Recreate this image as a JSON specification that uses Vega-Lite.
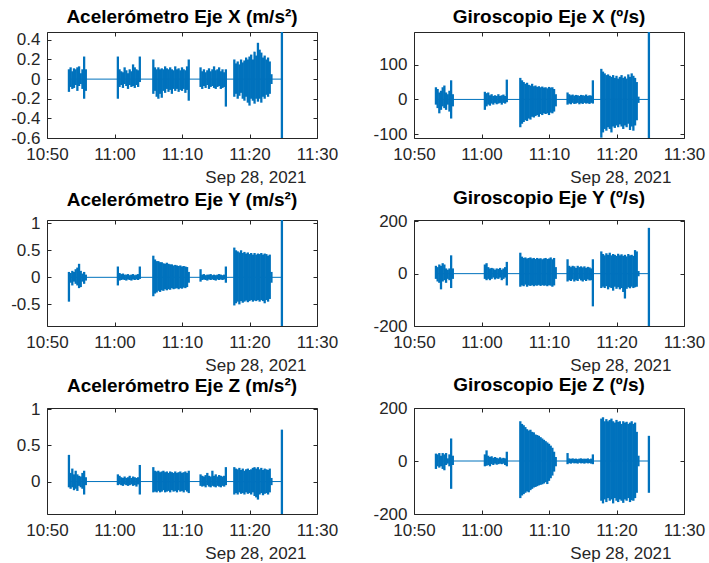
{
  "$schema": "https://vega.github.io/schema/vega-lite/v6.json",
  "padding": {"left": 10, "top": 7, "right": 5, "bottom": 5},
  "background": "white",
  "datasets": {
    "imu": [
      {"t":"2021-09-28T10:53:15","axl":-0.13,"axh":0.1,"gxl":-15,"gxh":35,"ayl":-0.45,"ayh":0.1,"gyl":-20,"gyh":30,"azl":-0.08,"azh":0.37,"gzl":-30,"gzh":28},
      {"t":"2021-09-28T10:53:30","axl":-0.08,"axh":0.12,"gxl":-25,"gxh":30,"ayl":-0.1,"ayh":0.08,"gyl":-30,"gyh":25,"azl":-0.1,"azh":0.12,"gzl":-20,"gzh":25},
      {"t":"2021-09-28T10:53:45","axl":-0.1,"axh":0.08,"gxl":-40,"gxh":20,"ayl":-0.15,"ayh":0.12,"gyl":-35,"gyh":35,"azl":-0.08,"azh":0.18,"gzl":-25,"gzh":30},
      {"t":"2021-09-28T10:54:00","axl":-0.09,"axh":0.11,"gxl":-30,"gxh":25,"ayl":-0.08,"ayh":0.1,"gyl":-60,"gyh":30,"azl":-0.12,"azh":0.1,"gzl":-20,"gzh":20},
      {"t":"2021-09-28T10:54:15","axl":-0.06,"axh":0.1,"gxl":-20,"gxh":35,"ayl":-0.12,"ayh":0.15,"gyl":-30,"gyh":40,"azl":-0.1,"azh":0.15,"gzl":-30,"gzh":30},
      {"t":"2021-09-28T10:54:30","axl":-0.12,"axh":0.12,"gxl":-25,"gxh":40,"ayl":-0.15,"ayh":0.18,"gyl":-25,"gyh":35,"azl":-0.13,"azh":0.1,"gzl":-35,"gzh":25},
      {"t":"2021-09-28T10:54:45","axl":-0.07,"axh":0.13,"gxl":-30,"gxh":20,"ayl":-0.2,"ayh":0.25,"gyl":-35,"gyh":20,"azl":-0.06,"azh":0.08,"gzl":-15,"gzh":30},
      {"t":"2021-09-28T10:55:00","axl":-0.05,"axh":0.06,"gxl":-15,"gxh":15,"ayl":-0.18,"ayh":0.12,"gyl":-20,"gyh":15,"azl":-0.08,"azh":0.07,"gzl":-10,"gzh":10},
      {"t":"2021-09-28T10:55:15","axl":-0.1,"axh":0.1,"gxl":-35,"gxh":25,"ayl":-0.08,"ayh":0.07,"gyl":-25,"gyh":20,"azl":-0.1,"azh":0.12,"gzl":-20,"gzh":25},
      {"t":"2021-09-28T10:55:30","axl":-0.2,"axh":0.23,"gxl":-55,"gxh":55,"ayl":-0.12,"ayh":0.1,"gyl":-55,"gyh":70,"azl":-0.18,"azh":0.15,"gzl":-105,"gzh":85},
      {"t":"2021-09-28T10:55:45","axl":-0.12,"axh":0.1,"gxl":-20,"gxh":15,"ayl":-0.06,"ayh":0.05,"gyl":-20,"gyh":20,"azl":-0.05,"azh":0.06,"gzl":-15,"gzh":20},
      {"t":"2021-09-28T11:00:30","axl":-0.2,"axh":0.23,"gxl":-30,"gxh":22,"ayl":-0.15,"ayh":0.2,"gyl":-20,"gyh":35,"azl":-0.05,"azh":0.1,"gzl":-20,"gzh":25},
      {"t":"2021-09-28T11:00:45","axl":-0.08,"axh":0.1,"gxl":-20,"gxh":18,"ayl":-0.06,"ayh":0.08,"gyl":-25,"gyh":40,"azl":-0.04,"azh":0.08,"gzl":-18,"gzh":40},
      {"t":"2021-09-28T11:01:00","axl":-0.06,"axh":0.08,"gxl":-15,"gxh":20,"ayl":-0.05,"ayh":0.06,"gyl":-20,"gyh":25,"azl":-0.05,"azh":0.06,"gzl":-15,"gzh":20},
      {"t":"2021-09-28T11:01:15","axl":-0.09,"axh":0.07,"gxl":-18,"gxh":12,"ayl":-0.04,"ayh":0.07,"gyl":-25,"gyh":20,"azl":-0.06,"azh":0.05,"gzl":-20,"gzh":15},
      {"t":"2021-09-28T11:01:30","axl":-0.05,"axh":0.12,"gxl":-12,"gxh":15,"ayl":-0.05,"ayh":0.05,"gyl":-20,"gyh":22,"azl":-0.04,"azh":0.07,"gzl":-12,"gzh":18},
      {"t":"2021-09-28T11:01:45","axl":-0.07,"axh":0.09,"gxl":-15,"gxh":10,"ayl":-0.06,"ayh":0.05,"gyl":-15,"gyh":20,"azl":-0.05,"azh":0.05,"gzl":-15,"gzh":12},
      {"t":"2021-09-28T11:02:00","axl":-0.1,"axh":0.06,"gxl":-10,"gxh":12,"ayl":-0.04,"ayh":0.06,"gyl":-22,"gyh":15,"azl":-0.06,"azh":0.06,"gzl":-10,"gzh":15},
      {"t":"2021-09-28T11:02:15","axl":-0.06,"axh":0.1,"gxl":-14,"gxh":10,"ayl":-0.05,"ayh":0.04,"gyl":-18,"gyh":20,"azl":-0.05,"azh":0.08,"gzl":-14,"gzh":12},
      {"t":"2021-09-28T11:02:30","axl":-0.08,"axh":0.08,"gxl":-12,"gxh":15,"ayl":-0.06,"ayh":0.05,"gyl":-20,"gyh":18,"azl":-0.04,"azh":0.05,"gzl":-12,"gzh":10},
      {"t":"2021-09-28T11:02:45","axl":-0.07,"axh":0.15,"gxl":-10,"gxh":10,"ayl":-0.04,"ayh":0.06,"gyl":-15,"gyh":22,"azl":-0.06,"azh":0.07,"gzl":-10,"gzh":14},
      {"t":"2021-09-28T11:03:00","axl":-0.09,"axh":0.12,"gxl":-15,"gxh":12,"ayl":-0.05,"ayh":0.04,"gyl":-25,"gyh":15,"azl":-0.05,"azh":0.06,"gzl":-12,"gzh":10},
      {"t":"2021-09-28T11:03:15","axl":-0.06,"axh":0.1,"gxl":-10,"gxh":14,"ayl":-0.04,"ayh":0.05,"gyl":-20,"gyh":20,"azl":-0.07,"azh":0.05,"gzl":-10,"gzh":12},
      {"t":"2021-09-28T11:03:30","axl":-0.08,"axh":0.09,"gxl":-12,"gxh":10,"ayl":-0.05,"ayh":0.06,"gyl":-15,"gyh":25,"azl":-0.04,"azh":0.06,"gzl":-15,"gzh":10},
      {"t":"2021-09-28T11:03:45","axl":-0.03,"axh":0.23,"gxl":-8,"gxh":57,"ayl":-0.03,"ayh":0.2,"gyl":-45,"gyh":45,"azl":-0.18,"azh":0.23,"gzl":-20,"gzh":35},
      {"t":"2021-09-28T11:05:45","axl":-0.15,"axh":0.2,"gxl":-80,"gxh":62,"ayl":-0.35,"ayh":0.4,"gyl":-50,"gyh":80,"azl":-0.15,"azh":0.2,"gzl":-140,"gzh":150},
      {"t":"2021-09-28T11:06:00","axl":-0.12,"axh":0.12,"gxl":-70,"gxh":55,"ayl":-0.3,"ayh":0.33,"gyl":-45,"gyh":65,"azl":-0.14,"azh":0.15,"gzl":-130,"gzh":140},
      {"t":"2021-09-28T11:06:15","axl":-0.18,"axh":0.1,"gxl":-65,"gxh":50,"ayl":-0.28,"ayh":0.3,"gyl":-48,"gyh":60,"azl":-0.15,"azh":0.14,"gzl":-125,"gzh":135},
      {"t":"2021-09-28T11:06:30","axl":-0.2,"axh":0.12,"gxl":-60,"gxh":45,"ayl":-0.25,"ayh":0.3,"gyl":-42,"gyh":62,"azl":-0.13,"azh":0.15,"gzl":-120,"gzh":128},
      {"t":"2021-09-28T11:06:45","axl":-0.15,"axh":0.1,"gxl":-62,"gxh":48,"ayl":-0.27,"ayh":0.28,"gyl":-50,"gyh":58,"azl":-0.15,"azh":0.13,"gzl":-115,"gzh":120},
      {"t":"2021-09-28T11:07:00","axl":-0.19,"axh":0.11,"gxl":-55,"gxh":42,"ayl":-0.24,"ayh":0.28,"gyl":-45,"gyh":60,"azl":-0.14,"azh":0.14,"gzl":-118,"gzh":115},
      {"t":"2021-09-28T11:07:15","axl":-0.12,"axh":0.1,"gxl":-58,"gxh":40,"ayl":-0.25,"ayh":0.26,"gyl":-47,"gyh":62,"azl":-0.12,"azh":0.15,"gzl":-110,"gzh":118},
      {"t":"2021-09-28T11:07:30","axl":-0.14,"axh":0.13,"gxl":-50,"gxh":45,"ayl":-0.22,"ayh":0.25,"gyl":-44,"gyh":58,"azl":-0.15,"azh":0.13,"gzl":-105,"gzh":110},
      {"t":"2021-09-28T11:07:45","axl":-0.1,"axh":0.11,"gxl":-52,"gxh":38,"ayl":-0.24,"ayh":0.27,"gyl":-48,"gyh":60,"azl":-0.14,"azh":0.14,"gzl":-100,"gzh":108},
      {"t":"2021-09-28T11:08:00","axl":-0.13,"axh":0.1,"gxl":-48,"gxh":40,"ayl":-0.22,"ayh":0.25,"gyl":-45,"gyh":56,"azl":-0.13,"azh":0.12,"gzl":-98,"gzh":100},
      {"t":"2021-09-28T11:08:15","axl":-0.11,"axh":0.12,"gxl":-45,"gxh":36,"ayl":-0.23,"ayh":0.24,"gyl":-46,"gyh":60,"azl":-0.15,"azh":0.14,"gzl":-95,"gzh":98},
      {"t":"2021-09-28T11:08:30","axl":-0.15,"axh":0.1,"gxl":-50,"gxh":38,"ayl":-0.2,"ayh":0.24,"gyl":-43,"gyh":57,"azl":-0.12,"azh":0.13,"gzl":-92,"gzh":95},
      {"t":"2021-09-28T11:08:45","axl":-0.1,"axh":0.09,"gxl":-42,"gxh":35,"ayl":-0.22,"ayh":0.22,"gyl":-47,"gyh":59,"azl":-0.14,"azh":0.12,"gzl":-90,"gzh":90},
      {"t":"2021-09-28T11:09:00","axl":-0.12,"axh":0.13,"gxl":-45,"gxh":37,"ayl":-0.21,"ayh":0.23,"gyl":-44,"gyh":55,"azl":-0.13,"azh":0.14,"gzl":-88,"gzh":85},
      {"t":"2021-09-28T11:09:15","axl":-0.1,"axh":0.1,"gxl":-40,"gxh":34,"ayl":-0.2,"ayh":0.22,"gyl":-46,"gyh":58,"azl":-0.15,"azh":0.12,"gzl":-85,"gzh":80},
      {"t":"2021-09-28T11:09:30","axl":-0.13,"axh":0.11,"gxl":-42,"gxh":35,"ayl":-0.22,"ayh":0.21,"gyl":-45,"gyh":60,"azl":-0.12,"azh":0.13,"gzl":-80,"gzh":75},
      {"t":"2021-09-28T11:09:45","axl":-0.11,"axh":0.09,"gxl":-40,"gxh":32,"ayl":-0.2,"ayh":0.22,"gyl":-48,"gyh":56,"azl":-0.14,"azh":0.14,"gzl":-87,"gzh":70},
      {"t":"2021-09-28T11:10:00","axl":-0.12,"axh":0.12,"gxl":-45,"gxh":36,"ayl":-0.21,"ayh":0.2,"gyl":-44,"gyh":58,"azl":-0.13,"azh":0.12,"gzl":-75,"gzh":65},
      {"t":"2021-09-28T11:10:15","axl":-0.1,"axh":0.1,"gxl":-38,"gxh":34,"ayl":-0.19,"ayh":0.21,"gyl":-46,"gyh":62,"azl":-0.15,"azh":0.13,"gzl":-65,"gzh":58},
      {"t":"2021-09-28T11:10:30","axl":-0.14,"axh":0.09,"gxl":-40,"gxh":35,"ayl":-0.2,"ayh":0.2,"gyl":-50,"gyh":55,"azl":-0.12,"azh":0.14,"gzl":-55,"gzh":50},
      {"t":"2021-09-28T11:10:45","axl":-0.11,"axh":0.13,"gxl":-35,"gxh":30,"ayl":-0.18,"ayh":0.19,"gyl":-45,"gyh":60,"azl":-0.14,"azh":0.12,"gzl":-40,"gzh":35},
      {"t":"2021-09-28T11:11:00","axl":-0.22,"axh":0.2,"gxl":-20,"gxh":15,"ayl":-0.1,"ayh":0.1,"gyl":-20,"gyh":25,"azl":-0.16,"azh":0.15,"gzl":-20,"gzh":15},
      {"t":"2021-09-28T11:12:45","axl":-0.08,"axh":0.12,"gxl":-15,"gxh":20,"ayl":-0.08,"ayh":0.15,"gyl":-30,"gyh":55,"azl":-0.06,"azh":0.1,"gzl":-12,"gzh":30},
      {"t":"2021-09-28T11:13:00","axl":-0.1,"axh":0.08,"gxl":-12,"gxh":15,"ayl":-0.05,"ayh":0.05,"gyl":-25,"gyh":30,"azl":-0.07,"azh":0.08,"gzl":-8,"gzh":10},
      {"t":"2021-09-28T11:13:15","axl":-0.07,"axh":0.1,"gxl":-14,"gxh":12,"ayl":-0.04,"ayh":0.06,"gyl":-28,"gyh":25,"azl":-0.06,"azh":0.07,"gzl":-10,"gzh":8},
      {"t":"2021-09-28T11:13:30","axl":-0.09,"axh":0.07,"gxl":-10,"gxh":14,"ayl":-0.05,"ayh":0.04,"gyl":-22,"gyh":30,"azl":-0.08,"azh":0.09,"gzl":-7,"gzh":10},
      {"t":"2021-09-28T11:13:45","axl":-0.06,"axh":0.09,"gxl":-13,"gxh":11,"ayl":-0.06,"ayh":0.05,"gyl":-30,"gyh":28,"azl":-0.05,"azh":0.12,"gzl":-9,"gzh":8},
      {"t":"2021-09-28T11:14:00","axl":-0.1,"axh":0.11,"gxl":-12,"gxh":13,"ayl":-0.04,"ayh":0.05,"gyl":-25,"gyh":22,"azl":-0.07,"azh":0.08,"gzl":-8,"gzh":9},
      {"t":"2021-09-28T11:14:15","axl":-0.08,"axh":0.08,"gxl":-10,"gxh":12,"ayl":-0.05,"ayh":0.06,"gyl":-28,"gyh":30,"azl":-0.08,"azh":0.07,"gzl":-10,"gzh":7},
      {"t":"2021-09-28T11:14:30","axl":-0.07,"axh":0.1,"gxl":-14,"gxh":10,"ayl":-0.04,"ayh":0.04,"gyl":-20,"gyh":25,"azl":-0.06,"azh":0.15,"gzl":-7,"gzh":9},
      {"t":"2021-09-28T11:14:45","axl":-0.09,"axh":0.13,"gxl":-11,"gxh":13,"ayl":-0.05,"ayh":0.05,"gyl":-26,"gyh":28,"azl":-0.07,"azh":0.08,"gzl":-9,"gzh":10},
      {"t":"2021-09-28T11:15:00","axl":-0.1,"axh":0.09,"gxl":-13,"gxh":12,"ayl":-0.06,"ayh":0.04,"gyl":-30,"gyh":24,"azl":-0.08,"azh":0.1,"gzl":-8,"gzh":8},
      {"t":"2021-09-28T11:15:15","axl":-0.08,"axh":0.1,"gxl":-10,"gxh":11,"ayl":-0.04,"ayh":0.05,"gyl":-24,"gyh":28,"azl":-0.06,"azh":0.07,"gzl":-10,"gzh":9},
      {"t":"2021-09-28T11:15:30","axl":-0.07,"axh":0.12,"gxl":-12,"gxh":14,"ayl":-0.05,"ayh":0.06,"gyl":-28,"gyh":22,"azl":-0.07,"azh":0.09,"gzl":-7,"gzh":8},
      {"t":"2021-09-28T11:15:45","axl":-0.1,"axh":0.08,"gxl":-11,"gxh":10,"ayl":-0.04,"ayh":0.05,"gyl":-22,"gyh":26,"azl":-0.08,"azh":0.08,"gzl":-9,"gzh":10},
      {"t":"2021-09-28T11:16:00","axl":-0.09,"axh":0.1,"gxl":-13,"gxh":12,"ayl":-0.05,"ayh":0.04,"gyl":-26,"gyh":24,"azl":-0.06,"azh":0.07,"gzl":-8,"gzh":7},
      {"t":"2021-09-28T11:16:15","axl":-0.08,"axh":0.07,"gxl":-10,"gxh":11,"ayl":-0.04,"ayh":0.05,"gyl":-25,"gyh":20,"azl":-0.07,"azh":0.08,"gzl":-10,"gzh":9},
      {"t":"2021-09-28T11:16:30","axl":-0.28,"axh":0.1,"gxl":-12,"gxh":55,"ayl":-0.1,"ayh":0.2,"gyl":-125,"gyh":55,"azl":-0.05,"azh":0.2,"gzl":-12,"gzh":25},
      {"t":"2021-09-28T11:17:45","axl":-0.18,"axh":0.2,"gxl":-110,"gxh":88,"ayl":-0.52,"ayh":0.55,"gyl":-55,"gyh":85,"azl":-0.18,"azh":0.2,"gzl":-150,"gzh":160},
      {"t":"2021-09-28T11:18:00","axl":-0.15,"axh":0.16,"gxl":-95,"gxh":80,"ayl":-0.48,"ayh":0.5,"gyl":-50,"gyh":75,"azl":-0.16,"azh":0.18,"gzl":-160,"gzh":165},
      {"t":"2021-09-28T11:18:15","axl":-0.2,"axh":0.18,"gxl":-85,"gxh":75,"ayl":-0.45,"ayh":0.48,"gyl":-55,"gyh":70,"azl":-0.18,"azh":0.17,"gzl":-145,"gzh":150},
      {"t":"2021-09-28T11:18:30","axl":-0.17,"axh":0.15,"gxl":-90,"gxh":70,"ayl":-0.5,"ayh":0.46,"gyl":-48,"gyh":78,"azl":-0.15,"azh":0.19,"gzl":-155,"gzh":158},
      {"t":"2021-09-28T11:18:45","axl":-0.14,"axh":0.2,"gxl":-80,"gxh":72,"ayl":-0.44,"ayh":0.5,"gyl":-60,"gyh":72,"azl":-0.17,"azh":0.16,"gzl":-140,"gzh":150},
      {"t":"2021-09-28T11:19:00","axl":-0.2,"axh":0.17,"gxl":-85,"gxh":68,"ayl":-0.47,"ayh":0.45,"gyl":-52,"gyh":80,"azl":-0.16,"azh":0.18,"gzl":-150,"gzh":155},
      {"t":"2021-09-28T11:19:15","axl":-0.22,"axh":0.19,"gxl":-95,"gxh":65,"ayl":-0.45,"ayh":0.47,"gyl":-55,"gyh":70,"azl":-0.18,"azh":0.15,"gzl":-145,"gzh":160},
      {"t":"2021-09-28T11:19:30","axl":-0.18,"axh":0.22,"gxl":-78,"gxh":70,"ayl":-0.43,"ayh":0.44,"gyl":-65,"gyh":75,"azl":-0.15,"azh":0.17,"gzl":-160,"gzh":150},
      {"t":"2021-09-28T11:19:45","axl":-0.24,"axh":0.2,"gxl":-82,"gxh":62,"ayl":-0.46,"ayh":0.46,"gyl":-50,"gyh":72,"azl":-0.17,"azh":0.18,"gzl":-140,"gzh":145},
      {"t":"2021-09-28T11:20:00","axl":-0.27,"axh":0.23,"gxl":-75,"gxh":68,"ayl":-0.44,"ayh":0.43,"gyl":-58,"gyh":68,"azl":-0.16,"azh":0.16,"gzl":-150,"gzh":155},
      {"t":"2021-09-28T11:20:15","axl":-0.2,"axh":0.25,"gxl":-80,"gxh":60,"ayl":-0.42,"ayh":0.45,"gyl":-52,"gyh":76,"azl":-0.18,"azh":0.17,"gzl":-155,"gzh":148},
      {"t":"2021-09-28T11:20:30","axl":-0.22,"axh":0.2,"gxl":-72,"gxh":65,"ayl":-0.45,"ayh":0.42,"gyl":-60,"gyh":70,"azl":-0.15,"azh":0.19,"gzl":-145,"gzh":150},
      {"t":"2021-09-28T11:20:45","axl":-0.25,"axh":0.28,"gxl":-78,"gxh":70,"ayl":-0.43,"ayh":0.45,"gyl":-55,"gyh":74,"azl":-0.2,"azh":0.2,"gzl":-150,"gzh":140},
      {"t":"2021-09-28T11:21:00","axl":-0.2,"axh":0.24,"gxl":-85,"gxh":62,"ayl":-0.44,"ayh":0.42,"gyl":-70,"gyh":68,"azl":-0.22,"azh":0.18,"gzl":-158,"gzh":150},
      {"t":"2021-09-28T11:21:15","axl":-0.23,"axh":0.37,"gxl":-75,"gxh":66,"ayl":-0.42,"ayh":0.44,"gyl":-95,"gyh":72,"azl":-0.25,"azh":0.2,"gzl":-145,"gzh":145},
      {"t":"2021-09-28T11:21:30","axl":-0.2,"axh":0.3,"gxl":-80,"gxh":60,"ayl":-0.45,"ayh":0.43,"gyl":-58,"gyh":66,"azl":-0.18,"azh":0.17,"gzl":-150,"gzh":148},
      {"t":"2021-09-28T11:21:45","axl":-0.24,"axh":0.27,"gxl":-70,"gxh":72,"ayl":-0.42,"ayh":0.45,"gyl":-52,"gyh":75,"azl":-0.16,"azh":0.19,"gzl":-140,"gzh":140},
      {"t":"2021-09-28T11:22:00","axl":-0.18,"axh":0.22,"gxl":-88,"gxh":65,"ayl":-0.44,"ayh":0.42,"gyl":-56,"gyh":70,"azl":-0.19,"azh":0.16,"gzl":-155,"gzh":145},
      {"t":"2021-09-28T11:22:15","axl":-0.2,"axh":0.24,"gxl":-78,"gxh":75,"ayl":-0.48,"ayh":0.44,"gyl":-50,"gyh":72,"azl":-0.17,"azh":0.18,"gzl":-148,"gzh":150},
      {"t":"2021-09-28T11:22:30","axl":-0.16,"axh":0.2,"gxl":-90,"gxh":68,"ayl":-0.42,"ayh":0.43,"gyl":-55,"gyh":68,"azl":-0.16,"azh":0.17,"gzl":-150,"gzh":140},
      {"t":"2021-09-28T11:22:45","axl":-0.18,"axh":0.22,"gxl":-75,"gxh":62,"ayl":-0.45,"ayh":0.4,"gyl":-52,"gyh":90,"azl":-0.18,"azh":0.16,"gzl":-140,"gzh":145},
      {"t":"2021-09-28T11:23:00","axl":-0.15,"axh":0.18,"gxl":-60,"gxh":50,"ayl":-0.4,"ayh":0.42,"gyl":-50,"gyh":85,"azl":-0.15,"azh":0.18,"gzl":-120,"gzh":110},
      {"t":"2021-09-28T11:23:15","axl":-0.05,"axh":0.05,"gxl":-10,"gxh":8,"ayl":-0.1,"ayh":0.1,"gyl":-10,"gyh":10,"azl":-0.05,"azh":0.05,"gzl":-20,"gzh":20},
      {"t":"2021-09-28T11:24:48","axl":-0.6,"axh":0.48,"gxl":-111,"gxh":194,"ayl":-0.9,"ayh":1.06,"gyl":-200,"gyh":175,"azl":-0.45,"azh":0.72,"gzl":-120,"gzh":95}
    ],
    "base": [
      {"t":"2021-09-28T10:53:12","v":0},
      {"t":"2021-09-28T11:24:48","v":0}
    ]
  },
  "columns": 2,
  "spacing": {"row": 82, "column": 97},
  "bounds": "flush",
  "concat": [
    {
      "title": "Acelerómetro Eje X (m/s²)",
      "width": 270, "height": 106,
      "layer": [
        {"data": {"name": "imu"}, "mark": {"type": "rule", "strokeWidth": 2.3, "color": "#0072BD"},
         "encoding": {
           "x": {"field": "t", "type": "temporal", "scale": {"domain": [{"year":2021,"month":9,"date":28,"hours":10,"minutes":50},{"year":2021,"month":9,"date":28,"hours":11,"minutes":30}], "nice": false},
                 "axis": {"orient": "bottom", "format": "%H:%M", "values": [{"year":2021,"month":9,"date":28,"hours":10,"minutes":50},{"year":2021,"month":9,"date":28,"hours":11,"minutes":0},{"year":2021,"month":9,"date":28,"hours":11,"minutes":10},{"year":2021,"month":9,"date":28,"hours":11,"minutes":20},{"year":2021,"month":9,"date":28,"hours":11,"minutes":30}], "offset": -4, "labelFlush": false, "labelOverlap": false, "labelPadding": 8.5, "title": "Sep 28, 2021", "titleAlign": "right", "titleX": 259, "titleY": 35}},
           "y": {"field": "axl", "type": "quantitative", "scale": {"domain": [-0.6, 0.48], "nice": false, "zero": false},
                 "axis": {"values": [-0.6,-0.4,-0.2,0,0.2,0.4], "format": ".1~f", "labelExpr": "replace(datum.label, '\u2212', '-')", "offset": -4, "labelPadding": 7, "labelOverlap": false, "title": null}},
           "y2": {"field": "axh"}}},
        {"data": {"name": "base"}, "mark": {"type": "line", "strokeWidth": 1, "color": "#0072BD"},
         "encoding": {
           "x": {"field": "t", "type": "temporal", "axis": {"orient": "top", "labels": false, "title": null, "offset": -4, "values": [{"year":2021,"month":9,"date":28,"hours":10,"minutes":50},{"year":2021,"month":9,"date":28,"hours":11,"minutes":0},{"year":2021,"month":9,"date":28,"hours":11,"minutes":10},{"year":2021,"month":9,"date":28,"hours":11,"minutes":20},{"year":2021,"month":9,"date":28,"hours":11,"minutes":30}]}},
           "y": {"field": "v", "type": "quantitative", "axis": {"orient": "right", "labels": false, "title": null, "offset": -4, "values": [-0.6,-0.4,-0.2,0,0.2,0.4]}}}}
      ],
      "resolve": {"axis": {"x": "independent", "y": "independent"}}
    },
    {
      "title": "Giroscopio Eje X (º/s)",
      "width": 270, "height": 106,
      "layer": [
        {"data": {"name": "imu"}, "mark": {"type": "rule", "strokeWidth": 2.3, "color": "#0072BD"},
         "encoding": {
           "x": {"field": "t", "type": "temporal", "scale": {"domain": [{"year":2021,"month":9,"date":28,"hours":10,"minutes":50},{"year":2021,"month":9,"date":28,"hours":11,"minutes":30}], "nice": false},
                 "axis": {"orient": "bottom", "format": "%H:%M", "values": [{"year":2021,"month":9,"date":28,"hours":10,"minutes":50},{"year":2021,"month":9,"date":28,"hours":11,"minutes":0},{"year":2021,"month":9,"date":28,"hours":11,"minutes":10},{"year":2021,"month":9,"date":28,"hours":11,"minutes":20},{"year":2021,"month":9,"date":28,"hours":11,"minutes":30}], "offset": -4, "labelFlush": false, "labelOverlap": false, "labelPadding": 8.5, "title": "Sep 28, 2021", "titleAlign": "right", "titleX": 257, "titleY": 35}},
           "y": {"field": "gxl", "type": "quantitative", "scale": {"domain": [-111, 194], "nice": false, "zero": false},
                 "axis": {"values": [-100,0,100], "format": "d", "labelExpr": "replace(datum.label, '\u2212', '-')", "offset": -4, "labelPadding": 7, "labelOverlap": false, "title": null}},
           "y2": {"field": "gxh"}}},
        {"data": {"name": "base"}, "mark": {"type": "line", "strokeWidth": 1, "color": "#0072BD"},
         "encoding": {
           "x": {"field": "t", "type": "temporal", "axis": {"orient": "top", "labels": false, "title": null, "offset": -4, "values": [{"year":2021,"month":9,"date":28,"hours":10,"minutes":50},{"year":2021,"month":9,"date":28,"hours":11,"minutes":0},{"year":2021,"month":9,"date":28,"hours":11,"minutes":10},{"year":2021,"month":9,"date":28,"hours":11,"minutes":20},{"year":2021,"month":9,"date":28,"hours":11,"minutes":30}]}},
           "y": {"field": "v", "type": "quantitative", "axis": {"orient": "right", "labels": false, "title": null, "offset": -4, "values": [-100,0,100]}}}}
      ],
      "resolve": {"axis": {"x": "independent", "y": "independent"}}
    },
    {
      "title": "Acelerómetro Eje Y (m/s²)",
      "width": 270, "height": 106,
      "layer": [
        {"data": {"name": "imu"}, "mark": {"type": "rule", "strokeWidth": 2.3, "color": "#0072BD"},
         "encoding": {
           "x": {"field": "t", "type": "temporal", "scale": {"domain": [{"year":2021,"month":9,"date":28,"hours":10,"minutes":50},{"year":2021,"month":9,"date":28,"hours":11,"minutes":30}], "nice": false},
                 "axis": {"orient": "bottom", "format": "%H:%M", "values": [{"year":2021,"month":9,"date":28,"hours":10,"minutes":50},{"year":2021,"month":9,"date":28,"hours":11,"minutes":0},{"year":2021,"month":9,"date":28,"hours":11,"minutes":10},{"year":2021,"month":9,"date":28,"hours":11,"minutes":20},{"year":2021,"month":9,"date":28,"hours":11,"minutes":30}], "offset": -4, "labelFlush": false, "labelOverlap": false, "labelPadding": 8.5, "title": "Sep 28, 2021", "titleAlign": "right", "titleX": 259, "titleY": 35}},
           "y": {"field": "ayl", "type": "quantitative", "scale": {"domain": [-0.9, 1.06], "nice": false, "zero": false},
                 "axis": {"values": [-0.5,0,0.5,1], "format": ".1~f", "labelExpr": "replace(datum.label, '\u2212', '-')", "offset": -4, "labelPadding": 7, "labelOverlap": false, "title": null}},
           "y2": {"field": "ayh"}}},
        {"data": {"name": "base"}, "mark": {"type": "line", "strokeWidth": 1, "color": "#0072BD"},
         "encoding": {
           "x": {"field": "t", "type": "temporal", "axis": {"orient": "top", "labels": false, "title": null, "offset": -4, "values": [{"year":2021,"month":9,"date":28,"hours":10,"minutes":50},{"year":2021,"month":9,"date":28,"hours":11,"minutes":0},{"year":2021,"month":9,"date":28,"hours":11,"minutes":10},{"year":2021,"month":9,"date":28,"hours":11,"minutes":20},{"year":2021,"month":9,"date":28,"hours":11,"minutes":30}]}},
           "y": {"field": "v", "type": "quantitative", "axis": {"orient": "right", "labels": false, "title": null, "offset": -4, "values": [-0.5,0,0.5,1]}}}}
      ],
      "resolve": {"axis": {"x": "independent", "y": "independent"}}
    },
    {
      "title": "Giroscopio Eje Y (º/s)",
      "width": 270, "height": 106,
      "layer": [
        {"data": {"name": "imu"}, "mark": {"type": "rule", "strokeWidth": 2.3, "color": "#0072BD"},
         "encoding": {
           "x": {"field": "t", "type": "temporal", "scale": {"domain": [{"year":2021,"month":9,"date":28,"hours":10,"minutes":50},{"year":2021,"month":9,"date":28,"hours":11,"minutes":30}], "nice": false},
                 "axis": {"orient": "bottom", "format": "%H:%M", "values": [{"year":2021,"month":9,"date":28,"hours":10,"minutes":50},{"year":2021,"month":9,"date":28,"hours":11,"minutes":0},{"year":2021,"month":9,"date":28,"hours":11,"minutes":10},{"year":2021,"month":9,"date":28,"hours":11,"minutes":20},{"year":2021,"month":9,"date":28,"hours":11,"minutes":30}], "offset": -4, "labelFlush": false, "labelOverlap": false, "labelPadding": 8.5, "title": "Sep 28, 2021", "titleAlign": "right", "titleX": 257, "titleY": 35}},
           "y": {"field": "gyl", "type": "quantitative", "scale": {"domain": [-200, 205], "nice": false, "zero": false},
                 "axis": {"values": [-200,0,200], "format": "d", "labelExpr": "replace(datum.label, '\u2212', '-')", "offset": -4, "labelPadding": 7, "labelOverlap": false, "title": null}},
           "y2": {"field": "gyh"}}},
        {"data": {"name": "base"}, "mark": {"type": "line", "strokeWidth": 1, "color": "#0072BD"},
         "encoding": {
           "x": {"field": "t", "type": "temporal", "axis": {"orient": "top", "labels": false, "title": null, "offset": -4, "values": [{"year":2021,"month":9,"date":28,"hours":10,"minutes":50},{"year":2021,"month":9,"date":28,"hours":11,"minutes":0},{"year":2021,"month":9,"date":28,"hours":11,"minutes":10},{"year":2021,"month":9,"date":28,"hours":11,"minutes":20},{"year":2021,"month":9,"date":28,"hours":11,"minutes":30}]}},
           "y": {"field": "v", "type": "quantitative", "axis": {"orient": "right", "labels": false, "title": null, "offset": -4, "values": [-200,0,200]}}}}
      ],
      "resolve": {"axis": {"x": "independent", "y": "independent"}}
    },
    {
      "title": "Acelerómetro Eje Z (m/s²)",
      "width": 270, "height": 106,
      "layer": [
        {"data": {"name": "imu"}, "mark": {"type": "rule", "strokeWidth": 2.3, "color": "#0072BD"},
         "encoding": {
           "x": {"field": "t", "type": "temporal", "scale": {"domain": [{"year":2021,"month":9,"date":28,"hours":10,"minutes":50},{"year":2021,"month":9,"date":28,"hours":11,"minutes":30}], "nice": false},
                 "axis": {"orient": "bottom", "format": "%H:%M", "values": [{"year":2021,"month":9,"date":28,"hours":10,"minutes":50},{"year":2021,"month":9,"date":28,"hours":11,"minutes":0},{"year":2021,"month":9,"date":28,"hours":11,"minutes":10},{"year":2021,"month":9,"date":28,"hours":11,"minutes":20},{"year":2021,"month":9,"date":28,"hours":11,"minutes":30}], "offset": -4, "labelFlush": false, "labelOverlap": false, "labelPadding": 8.5, "title": "Sep 28, 2021", "titleAlign": "right", "titleX": 259, "titleY": 35}},
           "y": {"field": "azl", "type": "quantitative", "scale": {"domain": [-0.45, 1.02], "nice": false, "zero": false},
                 "axis": {"values": [0,0.5,1], "format": ".1~f", "labelExpr": "replace(datum.label, '\u2212', '-')", "offset": -4, "labelPadding": 7, "labelOverlap": false, "title": null}},
           "y2": {"field": "azh"}}},
        {"data": {"name": "base"}, "mark": {"type": "line", "strokeWidth": 1, "color": "#0072BD"},
         "encoding": {
           "x": {"field": "t", "type": "temporal", "axis": {"orient": "top", "labels": false, "title": null, "offset": -4, "values": [{"year":2021,"month":9,"date":28,"hours":10,"minutes":50},{"year":2021,"month":9,"date":28,"hours":11,"minutes":0},{"year":2021,"month":9,"date":28,"hours":11,"minutes":10},{"year":2021,"month":9,"date":28,"hours":11,"minutes":20},{"year":2021,"month":9,"date":28,"hours":11,"minutes":30}]}},
           "y": {"field": "v", "type": "quantitative", "axis": {"orient": "right", "labels": false, "title": null, "offset": -4, "values": [0,0.5,1]}}}}
      ],
      "resolve": {"axis": {"x": "independent", "y": "independent"}}
    },
    {
      "title": "Giroscopio Eje Z (º/s)",
      "width": 270, "height": 106,
      "layer": [
        {"data": {"name": "imu"}, "mark": {"type": "rule", "strokeWidth": 2.3, "color": "#0072BD"},
         "encoding": {
           "x": {"field": "t", "type": "temporal", "scale": {"domain": [{"year":2021,"month":9,"date":28,"hours":10,"minutes":50},{"year":2021,"month":9,"date":28,"hours":11,"minutes":30}], "nice": false},
                 "axis": {"orient": "bottom", "format": "%H:%M", "values": [{"year":2021,"month":9,"date":28,"hours":10,"minutes":50},{"year":2021,"month":9,"date":28,"hours":11,"minutes":0},{"year":2021,"month":9,"date":28,"hours":11,"minutes":10},{"year":2021,"month":9,"date":28,"hours":11,"minutes":20},{"year":2021,"month":9,"date":28,"hours":11,"minutes":30}], "offset": -4, "labelFlush": false, "labelOverlap": false, "labelPadding": 8.5, "title": "Sep 28, 2021", "titleAlign": "right", "titleX": 257, "titleY": 35}},
           "y": {"field": "gzl", "type": "quantitative", "scale": {"domain": [-200, 200], "nice": false, "zero": false},
                 "axis": {"values": [-200,0,200], "format": "d", "labelExpr": "replace(datum.label, '\u2212', '-')", "offset": -4, "labelPadding": 7, "labelOverlap": false, "title": null}},
           "y2": {"field": "gzh"}}},
        {"data": {"name": "base"}, "mark": {"type": "line", "strokeWidth": 1, "color": "#0072BD"},
         "encoding": {
           "x": {"field": "t", "type": "temporal", "axis": {"orient": "top", "labels": false, "title": null, "offset": -4, "values": [{"year":2021,"month":9,"date":28,"hours":10,"minutes":50},{"year":2021,"month":9,"date":28,"hours":11,"minutes":0},{"year":2021,"month":9,"date":28,"hours":11,"minutes":10},{"year":2021,"month":9,"date":28,"hours":11,"minutes":20},{"year":2021,"month":9,"date":28,"hours":11,"minutes":30}]}},
           "y": {"field": "v", "type": "quantitative", "axis": {"orient": "right", "labels": false, "title": null, "offset": -4, "values": [-200,0,200]}}}}
      ],
      "resolve": {"axis": {"x": "independent", "y": "independent"}}
    }
  ],
  "config": {
    "font": "Liberation Sans",
    "view": {"stroke": "#262626", "strokeWidth": 1},
    "axis": {"grid": false, "domain": false, "ticks": true, "tickColor": "#262626", "tickSize": 4, "tickWidth": 1,
             "labelFont": "Liberation Sans", "labelFontSize": 17, "labelColor": "#262626",
             "titleFont": "Liberation Sans", "titleFontSize": 17, "titleFontWeight": "normal", "titleColor": "#262626"},
    "title": {"font": "Liberation Sans", "fontSize": 19, "fontWeight": "bold", "color": "#000000", "offset": 0}
  }
}
